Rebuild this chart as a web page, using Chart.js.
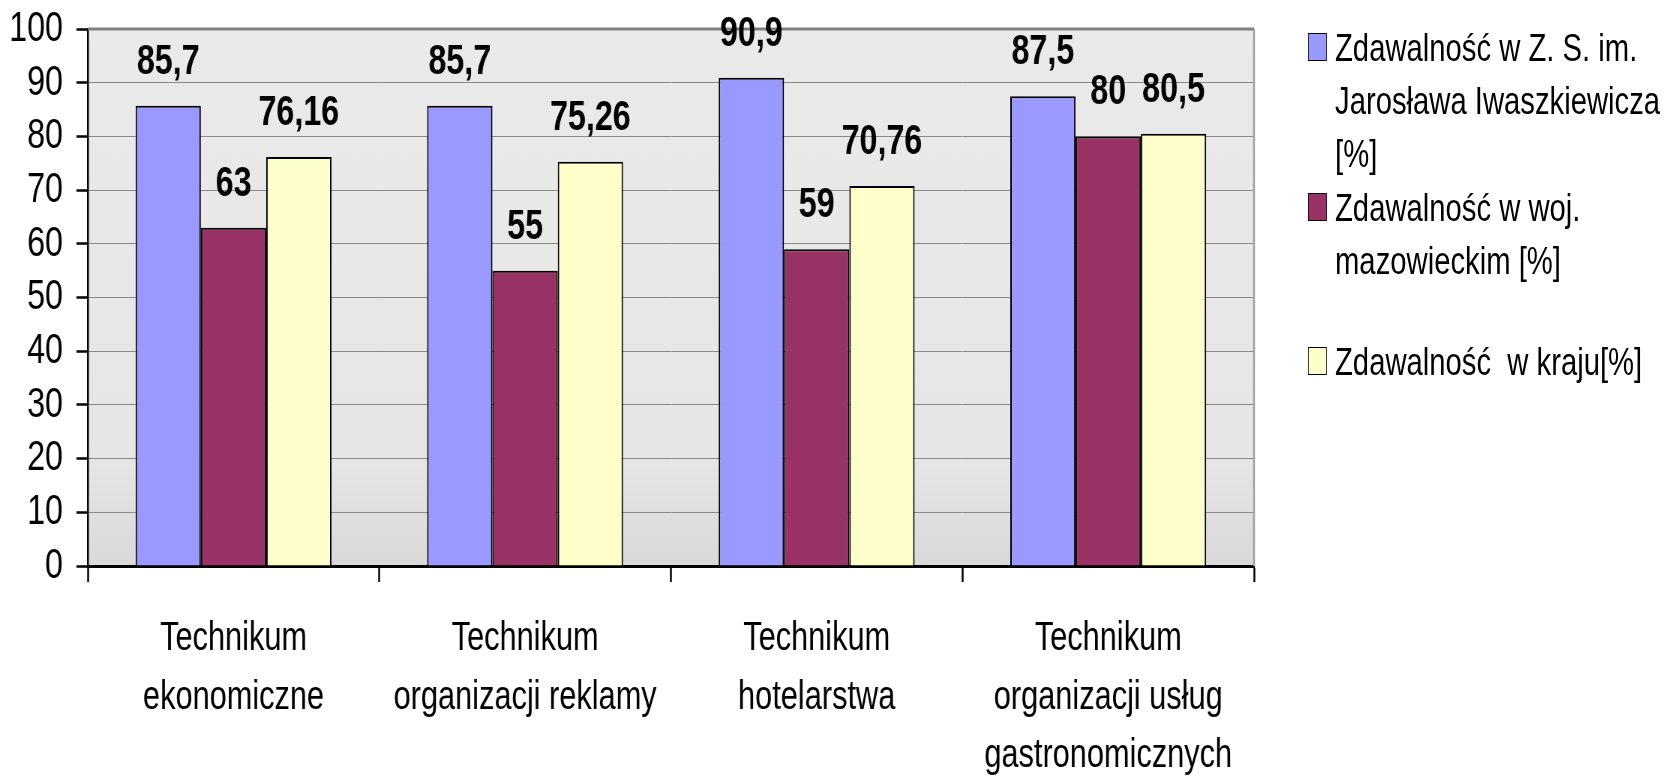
<!DOCTYPE html>
<html lang="pl">
<head>
  <meta charset="UTF-8">
  <title>Zdawalność egzaminu</title>
  <script src="https://cdn.jsdelivr.net/npm/chart.js"></script>
  <style>
    body {
      margin: 0;
      padding: 0;
      background: #fff;
      overflow: hidden;
      font-family: 'Liberation Sans', Arial, sans-serif;
    }
    /* the whole picture is drawn wide, then squeezed like the original */
    #wrap {
      position: absolute;
      left: 0;
      top: 0;
      width: 2220px;
      height: 778px;
      transform: scaleX(0.75);
      transform-origin: 0 0;
    }
    #box {
      position: absolute;
      left: 0;
      top: 0;
      width: 2220px;
      height: 778px;
    }
    .entry {
      position: absolute;
      left: 1744px;
      font-size: 39px;
      line-height: 53px;
      color: #000;
    }
    .entry .key {
      position: absolute;
      left: 0;
      top: 12px;
      width: 23px;
      height: 26px;
      border: 1.5px solid #000;
    }
    .entry .txt {
      margin-left: 36px;
      white-space: pre;
    }
  </style>
</head>
<body>
  <div id="wrap">
    <div id="box"><canvas id="chart"></canvas></div>
    <div id="legend"></div>
  </div>

  <script>
    const categories = [
      ['Technikum', 'ekonomiczne'],
      ['Technikum', 'organizacji reklamy'],
      ['Technikum', 'hotelarstwa'],
      ['Technikum', 'organizacji usług', 'gastronomicznych']
    ];
    const seriesNames = [
      'Zdawalność w Z. S. im.\nJarosława Iwaszkiewicza\n[%]',
      'Zdawalność w woj.\nmazowieckim [%]',
      'Zdawalność  w kraju[%]'
    ];
    const szkola = [85.7, 85.7, 90.9, 87.5];
    const wojewodztwo = [63, 55, 59, 80];
    const kraj = [76.16, 75.26, 70.76, 80.5];
    const yTicks = [0, 10, 20, 30, 40, 50, 60, 70, 80, 90, 100];

    const colors = ['#9999ff', '#993366', '#ffffcc'];
    const FONT = "'Liberation Sans', Arial, sans-serif";

    const plotBg = {
      id: 'plotBg',
      beforeDraw(chart) {
        const { ctx, chartArea: a } = chart;
        const g = ctx.createLinearGradient(0, a.top, 0, a.bottom);
        g.addColorStop(0, '#eaeaea');
        g.addColorStop(0.8, '#e6e6e6');
        g.addColorStop(1, '#d9d9d9');
        ctx.save();
        ctx.fillStyle = g;
        ctx.fillRect(a.left, a.top, a.right - a.left, a.bottom - a.top);
        ctx.restore();
      },
      beforeDatasetsDraw(chart) {
        const { ctx, chartArea: a } = chart;
        ctx.save();
        ctx.strokeStyle = '#808080';
        ctx.lineWidth = 3;
        ctx.beginPath();
        ctx.moveTo(a.left, a.top);
        ctx.lineTo(a.right, a.top);
        ctx.stroke();
        ctx.strokeStyle = '#a0a0a0';
        ctx.lineWidth = 2.5;
        ctx.beginPath();
        ctx.moveTo(a.right, a.top);
        ctx.lineTo(a.right, a.bottom);
        ctx.stroke();
        ctx.restore();
      }
    };

    const valueLabels = {
      id: 'valueLabels',
      afterDraw(chart) {
        const ctx = chart.ctx;
        ctx.save();
        ctx.font = 'bold 43px ' + FONT;
        ctx.fillStyle = '#000';
        ctx.textAlign = 'center';
        ctx.textBaseline = 'middle';
        chart.data.datasets.forEach((ds, i) => {
          chart.getDatasetMeta(i).data.forEach((bar, j) => {
            const txt = String(ds.data[j]).replace('.', ',');
            ctx.fillText(txt, bar.x, bar.y - 44);
          });
        });
        ctx.restore();
      }
    };

    const datasets = [szkola, wojewodztwo, kraj].map((vals, i) => ({
      label: seriesNames[i],
      data: vals,
      backgroundColor: colors[i],
      borderColor: '#000',
      borderWidth: 2,
      categoryPercentage: 0.672,
      barPercentage: 1
    }));

    new Chart(document.getElementById('chart'), {
      type: 'bar',
      data: { labels: categories, datasets: datasets },
      plugins: [plotBg, valueLabels],
      options: {
        responsive: true,
        maintainAspectRatio: false,
        animation: false,
        layout: { padding: { top: 29, right: 548, left: 0, bottom: 0 } },
        plugins: {
          legend: { display: false },
          tooltip: { enabled: false }
        },
        scales: {
          x: {
            offset: true,
            grid: {
              offset: true,
              drawOnChartArea: false,
              drawTicks: true,
              tickLength: 16,
              tickColor: '#000',
              tickWidth: 2.5
            },
            border: { color: '#000', width: 3 },
            ticks: {
              color: '#000',
              padding: 28,
              font: { family: FONT, size: 41, lineHeight: 1.42 },
              maxRotation: 0,
              autoSkip: false
            },
            afterFit(scale) { scale.height = 212; }
          },
          y: {
            min: 0,
            max: 100,
            afterBuildTicks(scale) { scale.ticks = yTicks.map(v => ({ value: v })); },
            grid: {
              color: '#8a8a8a',
              lineWidth: 1,
              borderDash: [5, 3],
              drawTicks: true,
              tickLength: 15,
              tickColor: '#000',
              tickWidth: 2.5,
              tickBorderDash: []
            },
            border: { color: '#000', width: 2.5 },
            ticks: {
              color: '#000',
              padding: 18,
              autoSkip: false,
              font: { family: FONT, size: 43 }
            },
            afterFit(scale) {
              scale.width = 117;
              scale.paddingTop = 0;
              scale.paddingBottom = 0;
            }
          }
        }
      }
    });

    // legend as multi-line text next to the plot
    const legendTops = [21, 181, 335];
    const legend = document.getElementById('legend');
    seriesNames.forEach((name, i) => {
      const e = document.createElement('div');
      e.className = 'entry';
      e.style.top = legendTops[i] + 'px';
      e.innerHTML = '<div class="key" style="background:' + colors[i] + '"></div><div class="txt"></div>';
      e.querySelector('.txt').textContent = name;
      legend.appendChild(e);
    });
  </script>
</body>
</html>
